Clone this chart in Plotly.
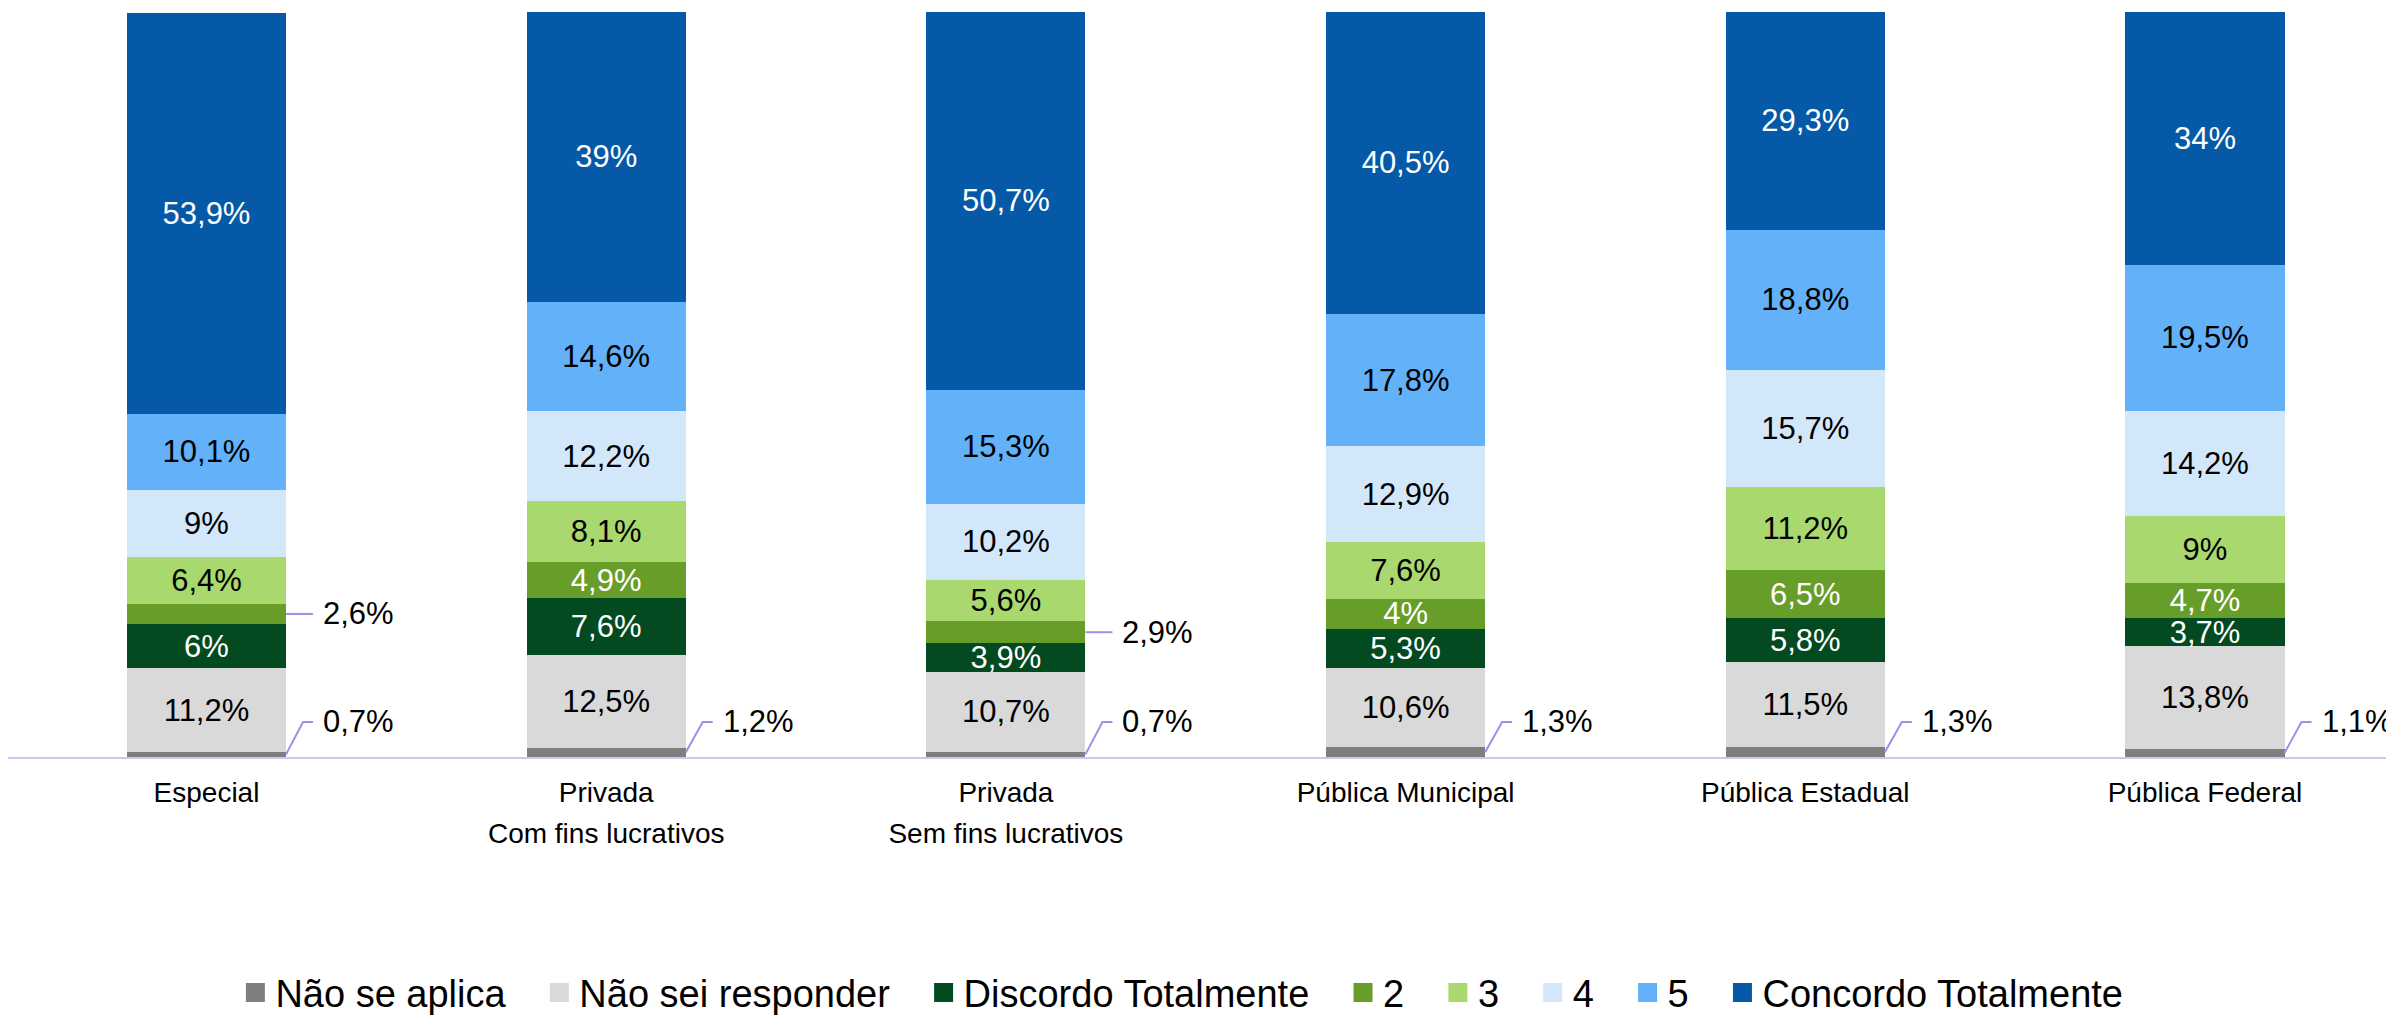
import plotly.graph_objects as go

# ---------------- data ----------------
categories = [
    "Especial",
    "Privada<br>Com fins lucrativos",
    "Privada<br>Sem fins lucrativos",
    "Pública Municipal",
    "Pública Estadual",
    "Pública Federal",
]
series_names = ["Não se aplica", "Não sei responder", "Discordo Totalmente",
                "2", "3", "4", "5", "Concordo Totalmente"]

nao_se_aplica = [0.7, 1.2, 0.7, 1.3, 1.3, 1.1]
nao_sei = [11.2, 12.5, 10.7, 10.6, 11.5, 13.8]
discordo_total = [6.0, 7.6, 3.9, 5.3, 5.8, 3.7]
nivel_2 = [2.6, 4.9, 2.9, 4.0, 6.5, 4.7]
nivel_3 = [6.4, 8.1, 5.6, 7.6, 11.2, 9.0]
nivel_4 = [9.0, 12.2, 10.2, 12.9, 15.7, 14.2]
nivel_5 = [10.1, 14.6, 15.3, 17.8, 18.8, 19.5]
concordo_total = [53.9, 39.0, 50.7, 40.5, 29.3, 34.0]

series_values = [nao_se_aplica, nao_sei, discordo_total, nivel_2,
                 nivel_3, nivel_4, nivel_5, concordo_total]

# ---------------- style ----------------
colors = ["#7f7f7f", "#d9d9d9", "#034a21", "#679e29",
          "#a9d86e", "#d3e7fb", "#63b1f9", "#0659a6"]
text_colors = ["black", "black", "white", "white",
               "black", "black", "black", "white"]
FONT = "Liberation Sans, Arial, sans-serif"
BAR_W = 0.398
CALLOUT_MAX = 3.0          # segments below this get an outside label
PX = 1 / 399.7             # one pixel in x data units
LEADER_COLOR = "#9494ea"
NSA_LABEL_Y = 4.7          # height of outside labels for the thinnest segment
LEGEND_PAD = "\u00a0\u00a0\u2009"


def fmt(v):
    return f"{v:g}".replace(".", ",") + "%"


x = list(range(len(categories)))
fig = go.Figure()

callouts = []  # (x, y_center, y_label, text)
base = [0.0] * len(categories)
for k, (name, vals) in enumerate(zip(series_names, series_values)):
    texts = []
    for i, v in enumerate(vals):
        if v < CALLOUT_MAX:
            texts.append("")
            yc = base[i] + v / 2
            yl = NSA_LABEL_Y if k == 0 else yc
            callouts.append((i, yc, yl, fmt(v)))
        else:
            texts.append(fmt(v))
    fig.add_trace(go.Bar(
        x=x, y=vals, name=name, width=BAR_W,
        marker=dict(color=colors[k], line=dict(width=0)),
        text=texts, textposition="inside", insidetextanchor="middle",
        textfont=dict(family=FONT, size=31, color=text_colors[k]),
        showlegend=False, hoverinfo="skip",
    ))
    base = [b + v for b, v in zip(base, vals)]

# leader lines + outside labels
for i, yc, yl, t in callouts:
    edge = i + BAR_W / 2
    fig.add_trace(go.Scatter(
        x=[edge, edge + 17 * PX, edge + 27 * PX], y=[yc, yl, yl],
        mode="lines", line=dict(color=LEADER_COLOR, width=2),
        showlegend=False, hoverinfo="skip",
    ))
    fig.add_annotation(
        x=edge + 35 * PX, y=yl, text=t, showarrow=False,
        xanchor="left", yanchor="middle",
        font=dict(family=FONT, size=31, color="black"),
    )

# legend entries
for name, c in zip(series_names, colors):
    fig.add_trace(go.Scatter(
        x=[None], y=[None], mode="markers", name=name + LEGEND_PAD,
        marker=dict(symbol="square", size=16, color=c, line=dict(color=c, width=3)),
        hoverinfo="skip",
    ))

ticktext = ["<br>".join(f"<span style='font-size:28px'>{p}</span>" for p in c.split("<br>"))
            for c in categories]

fig.update_layout(
    width=2386, height=1009,
    margin=dict(l=0, r=0, t=4, b=260, autoexpand=False),
    barmode="stack",
    plot_bgcolor="white", paper_bgcolor="white",
    font=dict(family=FONT, color="black"),
    hovermode=False,
    uniformtext=dict(minsize=31, mode="show"),
    xaxis=dict(
        range=[-0.4966, 5.4729], tickvals=x, ticktext=ticktext,
        showline=True, linecolor="#c9c9f2", linewidth=2,
        showgrid=False, zeroline=False, ticks="",
        tickfont=dict(family=FONT, size=31.5, color="black"),
        ticklabelstandoff=5,
    ),
    yaxis=dict(range=[0, 100], visible=False, fixedrange=True),
    showlegend=True,
    legend=dict(
        orientation="h", traceorder="normal",
        x=0.0953, y=-0.3165, xanchor="left", yanchor="middle",
        font=dict(family=FONT, size=38, color="black"),
        bgcolor="rgba(0,0,0,0)", itemclick=False, itemdoubleclick=False,
    ),
)

fig.write_html("out.html")
